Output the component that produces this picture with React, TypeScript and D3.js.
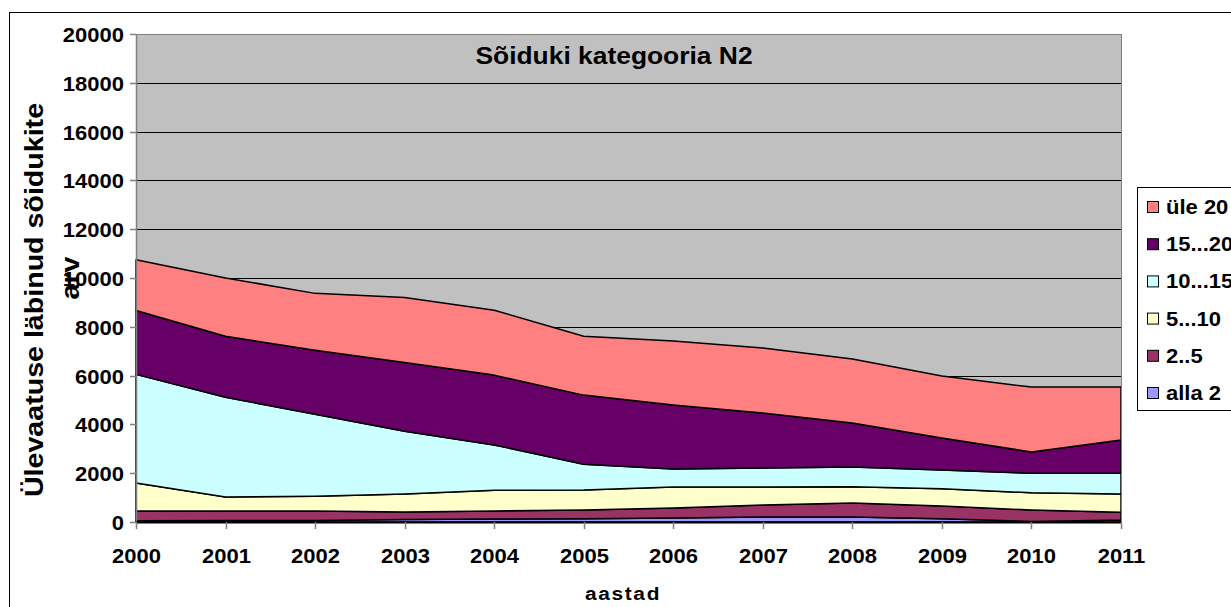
import React, { useEffect, useRef } from 'react';
import * as d3 from 'd3';

const years = ['2000', '2001', '2002', '2003', '2004', '2005', '2006', '2007', '2008', '2009', '2010', '2011'];

// vanuserühmad (alt üles)
const alla2 = [50, 60, 60, 100, 120, 130, 160, 200, 210, 130, 20, 80];
const v2_5 = [400, 390, 390, 310, 330, 360, 410, 500, 570, 530, 470, 320];
const v5_10 = [1150, 570, 610, 740, 850, 820, 860, 730, 660, 700, 710, 750];
const v10_15 = [4450, 4090, 3360, 2570, 1860, 1060, 740, 780, 810, 770, 800, 850];
const v15_20 = [2620, 2500, 2620, 2820, 2860, 2830, 2630, 2260, 1810, 1310, 870, 1360];
const yle20 = [2080, 2390, 2330, 2660, 2660, 2410, 2620, 2660, 2620, 2540, 2660, 2170];

const seriesNames = ['alla 2', '2..5', '5...10', '10...15', '15...20', 'üle 20'];
const seriesColors = ['#9999FF', '#993366', '#FFFFCC', '#CCFFFF', '#660066', '#FF8080'];
const yTicks = [0, 2000, 4000, 6000, 8000, 10000, 12000, 14000, 16000, 18000, 20000];

const FONT = '"Liberation Sans", Arial, sans-serif';
const SX = 1.1; // tekst on veidi laiemaks venitatud

export default function App() {
  const svgRef = useRef<SVGSVGElement>(null);

  useEffect(() => {
    if (!svgRef.current) return;
    const width = 1231;
    const height = 607;
    const svg = d3.select(svgRef.current);
    svg.selectAll('*').remove();
    svg.attr('width', width).attr('height', height);

    const left = 136, right = 1121, top = 34, bottom = 522;

    const text = (g: any, x: number, y: number, s: string, size: number, anchor = 'middle', rot = 0) =>
      g.append('text')
        .attr('transform', `translate(${x},${y}) rotate(${rot}) scale(${SX},1)`)
        .attr('text-anchor', anchor)
        .attr('font-family', FONT)
        .attr('font-weight', 'bold')
        .attr('font-size', size)
        .attr('fill', '#000')
        .text(s);

    svg.append('rect').attr('width', width).attr('height', height).attr('fill', '#fff');
    svg.append('rect').attr('x', 9.5).attr('y', 12.5).attr('width', 1240).attr('height', 620)
      .attr('fill', 'none').attr('stroke', '#000').attr('stroke-width', 1);

    const x = d3.scalePoint<string>().domain(years).range([left, right]);
    const y = d3.scaleLinear().domain([0, 20000]).range([bottom, top]);

    // plot area
    svg.append('rect').attr('x', left).attr('y', top).attr('width', right - left).attr('height', bottom - top)
      .attr('fill', '#C0C0C0');

    svg.append('g').selectAll('line').data(yTicks.slice(1)).enter().append('line')
      .attr('x1', left).attr('x2', right)
      .attr('y1', d => Math.round(y(d)) + 0.5).attr('y2', d => Math.round(y(d)) + 0.5)
      .attr('stroke', '#000').attr('stroke-width', 1);

    const rows = years.map((yr, i) => ({
      year: yr,
      'alla 2': alla2[i], '2..5': v2_5[i], '5...10': v5_10[i],
      '10...15': v10_15[i], '15...20': v15_20[i], 'üle 20': yle20[i],
    }));
    const stacked = d3.stack<any>().keys(seriesNames)(rows);

    const area = d3.area<any>()
      .x(d => x(d.data.year)!)
      .y0(d => y(d[0]))
      .y1(d => y(d[1]));

    svg.append('g').selectAll('path').data(stacked).enter().append('path')
      .attr('d', area)
      .attr('fill', (_, i) => seriesColors[i])
      .attr('stroke', '#000')
      .attr('stroke-width', 1.5)
      .attr('stroke-linejoin', 'round');

    // plot border
    svg.append('rect').attr('x', left + 0.5).attr('y', top + 0.5).attr('width', right - left).attr('height', bottom - top)
      .attr('fill', 'none').attr('stroke', '#808080').attr('stroke-width', 1);

    // axes
    svg.append('line').attr('x1', left + 0.5).attr('x2', left + 0.5).attr('y1', top).attr('y2', bottom)
      .attr('stroke', '#808080').attr('stroke-width', 1.5);
    svg.append('line').attr('x1', left).attr('x2', right).attr('y1', bottom + 0.5).attr('y2', bottom + 0.5)
      .attr('stroke', '#000').attr('stroke-width', 2);

    const yt = svg.append('g');
    yTicks.forEach(t => {
      const yy = Math.round(y(t)) + 0.5;
      yt.append('line').attr('x1', left - 6).attr('x2', left).attr('y1', yy).attr('y2', yy)
        .attr('stroke', '#808080').attr('stroke-width', 1.5);
      text(yt, left - 12, yy + 7.5, String(t), 20, 'end');
    });

    const xt = svg.append('g');
    years.forEach(yr => {
      const xx = Math.round(x(yr)!) + 0.5;
      xt.append('line').attr('x1', xx).attr('x2', xx).attr('y1', bottom).attr('y2', bottom + 7)
        .attr('stroke', '#808080').attr('stroke-width', 1.5);
      text(xt, xx, 563, yr, 20, 'middle');
    });

    // titles
    text(svg, 614, 64, 'Sõiduki kategooria N2', 24, 'middle');
    text(svg, 623, 600, 'aastad', 19, 'middle').attr('letter-spacing', 1.5);
    text(svg, 43, 300, 'Ülevaatuse läbinud sõidukite', 26, 'middle', -90);
    text(svg, 79, 278, 'arv', 26, 'middle', -90);

    // legend
    const lg = svg.append('g');
    lg.append('rect').attr('x', 1137.5).attr('y', 187.5).attr('width', 120).attr('height', 223)
      .attr('fill', '#fff').attr('stroke', '#000').attr('stroke-width', 1);
    const legendItems = seriesNames.map((n, i) => ({ n, c: seriesColors[i] })).reverse();
    legendItems.forEach((it, i) => {
      const cy = 207 + i * 37.2;
      lg.append('rect').attr('x', 1147.5).attr('y', cy - 5.5).attr('width', 11).attr('height', 11)
        .attr('fill', it.c).attr('stroke', '#000').attr('stroke-width', 1);
      text(lg, 1166, cy + 7, it.n, 20, 'start');
    });
  }, []);

  return (
    <div style={{ position: 'absolute', left: 0, top: 0, width: 1231, height: 607, overflow: 'hidden' }}>
      <svg ref={svgRef} style={{ display: 'block' }} />
    </div>
  );
}
